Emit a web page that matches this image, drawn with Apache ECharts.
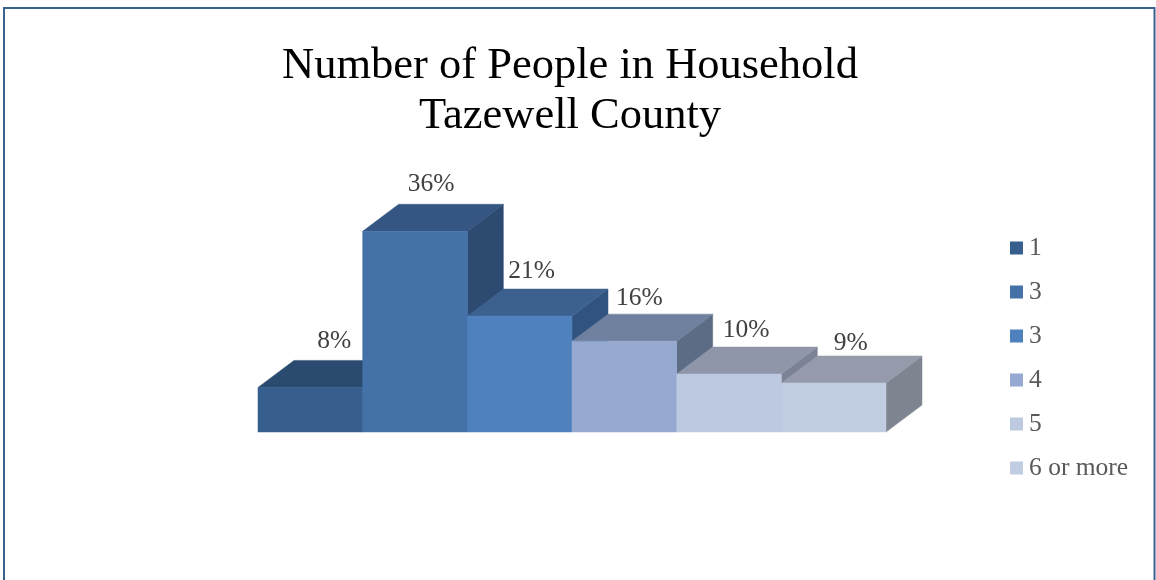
<!DOCTYPE html>
<html>
<head>
<meta charset="utf-8">
<style>html,body{margin:0;padding:0;background:#fff}#c{width:1156px;height:580px}</style>
<script src="https://cdn.jsdelivr.net/npm/echarts@6/dist/echarts.min.js"></script>
</head>
<body>
<div id="c"></div>
<script>
const categories = ['1', '3', '3', '4', '5', '6 or more'];
const seriesKeys = ['1', '3 (a)', '3 (b)', '4', '5', '6 or more'];
const percentValues = [8, 36, 20.8, 16.3, 10.4, 8.8];

const frontColors = ['#375F8E', '#4472A8', '#4F81BD', '#95A9D1', '#BCC9E1', '#C1CDE2'];
const topColors = ['#2A4A6F', '#355682', '#3C618E', '#70809F', '#8F96AA', '#959BAB'];
const sideColors = ['#24405F', '#2D4A70', '#30547F', '#5C6C85', '#7B8295', '#7F8590'];
const labelNudgeX = [24, 16, 12, 15, 17, 17];
const labelNudgeY = [-19, -20, -18, -16, -17, -13];
const depthX = 36, depthY = -27;
const FONT = '"Liberation Serif", serif';

const chart = echarts.init(document.getElementById('c'), null, {renderer: 'canvas'});

function renderBar(params, api) {
  const i = api.value(0);
  const v = api.value(1);
  const top = api.coord([i, v]);
  const base = api.coord([i, 0]);
  const half = api.size([1, 0])[0] / 2;
  const l = top[0] - half, r = top[0] + half, t = top[1], b = base[1];
  const poly = (points, fill) => ({type: 'polygon', shape: {points}, style: {fill, stroke: fill, lineWidth: 0.5}});
  return {
    type: 'group',
    children: [
      poly([[r, t], [r + depthX, t + depthY], [r + depthX, b + depthY], [r, b]], sideColors[i]),
      poly([[l, t], [r, t], [r + depthX, t + depthY], [l + depthX, t + depthY]], topColors[i]),
      poly([[l, t], [r, t], [r, b], [l, b]], frontColors[i]),
      {type: 'text', style: {
        text: Math.round(v) + '%',
        x: top[0] + labelNudgeX[i], y: t + depthY + labelNudgeY[i],
        align: 'center', verticalAlign: 'middle',
        font: '25.5px ' + FONT, fill: '#404040'
      }}
    ]
  };
}

chart.setOption({
  animation: false,
  backgroundColor: '#fff',
  title: {
    text: 'Number of People in Household\nTazewell County',
    left: 565, top: 36, textAlign: 'center',
    textStyle: {fontFamily: FONT, fontSize: 44.5, fontWeight: 'normal', color: '#000', lineHeight: 50}
  },
  grid: {left: 258, right: 270, top: 209, bottom: 148},
  xAxis: {type: 'category', data: seriesKeys, show: false},
  yAxis: {type: 'value', min: 0, max: 40, show: false},
  legend: {
    orient: 'vertical', left: 1005, top: 230,
    icon: 'rect', itemWidth: 13, itemHeight: 13, itemGap: 18,
    data: seriesKeys,
    formatter: name => categories[seriesKeys.indexOf(name)],
    selectedMode: false,
    textStyle: {fontFamily: FONT, fontSize: 25.5, color: '#595959', height: 26, lineHeight: 26, padding: [0, 0, 0, 1]}
  },
  series: seriesKeys.map((key, i) => ({
    type: 'custom',
    name: key,
    renderItem: renderBar,
    encode: {x: 0, y: 1},
    itemStyle: {color: frontColors[i]},
    data: [[i, percentValues[i]]]
  })),
  graphic: [{
    type: 'rect', z: 100, silent: true,
    shape: {x: 4, y: 8, width: 1150.5, height: 640},
    style: {fill: 'none', stroke: '#3B6191', lineWidth: 2}
  }]
});
</script>
</body>
</html>
